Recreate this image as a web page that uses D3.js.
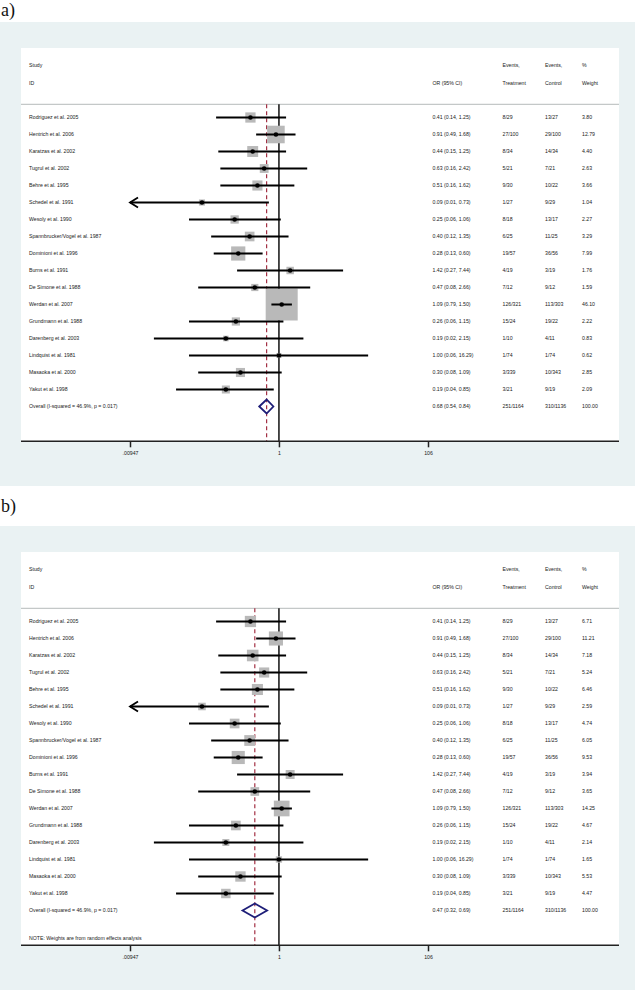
<!DOCTYPE html>
<html><head><meta charset="utf-8">
<script src="https://cdn.jsdelivr.net/npm/d3@7/dist/d3.min.js"></script>
<style>body{margin:0;background:#fff}svg{display:block}</style>
</head><body>
<svg id="chart" width="635" height="990"></svg>
<script>
// ---------- data ----------
const studies = ["Rodriguez et al. 2005","Hentrich et al. 2006","Karatzas et al. 2002","Tugrul et al. 2002",
  "Behre et al. 1995","Schedel et al. 1991","Wesoly et al. 1990","Spannbrucker/Vogel et al. 1987",
  "Dominioni et al. 1996","Burns et al. 1991","De Simone et al. 1988","Werdan et al. 2007",
  "Grundmann et al. 1988","Darenberg et al. 2003","Lindquist et al. 1981","Masaoka et al. 2000","Yakut et al. 1998"];
const oddsRatio = [0.41,0.91,0.44,0.63,0.51,0.09,0.25,0.40,0.28,1.42,0.47,1.09,0.26,0.19,1.00,0.30,0.19];
const ciLow     = [0.14,0.49,0.15,0.16,0.16,0.0094,0.06,0.12,0.13,0.27,0.08,0.79,0.06,0.02,0.06,0.08,0.04];
const ciHigh    = [1.25,1.68,1.25,2.42,1.62,0.73,1.06,1.35,0.60,7.44,2.66,1.50,1.15,2.15,16.29,1.09,0.85];
const eventsTreatment = ["8/29","27/100","8/34","5/21","9/30","1/27","8/18","6/25","19/57","4/19","7/12","126/321","15/24","1/10","1/74","3/339","3/21"];
const eventsControl   = ["13/27","29/100","14/34","7/21","10/22","9/29","13/17","11/25","36/56","3/19","9/12","113/303","19/22","4/11","1/74","10/343","9/19"];
const weightFixed  = [3.80,12.79,4.40,2.63,3.66,1.04,2.27,3.29,7.99,1.76,1.59,46.10,2.22,0.83,0.62,2.85,2.09];
const weightRandom = [6.71,11.21,7.18,5.24,6.46,2.59,4.74,6.05,9.53,3.94,3.65,14.25,4.67,2.14,1.65,5.53,4.47];
const overallFixed  = [0.68,0.54,0.84];   // OR, low, high
const overallRandom = [0.47,0.32,0.69];
const overallText = "Overall  (I-squared = 46.9%, p = 0.017)";
const overallEvents = ["251/1164","310/1136"];
const tickValues = [0.00947, 1, 106];
const tickLabels = [".00947", "1", "106"];
const noteText = "NOTE: Weights are from random effects analysis";

// ---------- drawing ----------
const svg = d3.select("#chart");
const FONT = "Liberation Sans, Arial, sans-serif";
const FS = 5.2;
const x = d3.scaleLog().domain([tickValues[0], tickValues[tickValues.length-1]]).range([130, 428]);

function fmt(v){ return v.toFixed(2); }

function panel(opts){
  const g = svg.append("g");
  const top = opts.top;
  g.append("rect").attr("x",0).attr("y",top).attr("width",635).attr("height",464).attr("fill","#eaf2f3");
  const T = top + 26;
  const axisY = T + 393.3;
  g.append("rect").attr("x",21).attr("y",T).attr("width",598).attr("height",axisY-T).attr("fill","#fff");
  g.append("text").attr("x",1).attr("y",opts.labelY).attr("font-family","Liberation Serif, Times New Roman, serif")
    .attr("font-size",18).attr("fill","#111").text(opts.label);

  const txt = (xx, yy, s) => g.append("text").attr("x",xx).attr("y",yy).attr("dy","0.35em")
      .attr("font-family",FONT).attr("font-size",FS).attr("fill","#1a1a1a").text(s);

  const l1 = T + 17.5, l2 = T + 35, sepY = T + 56.3;
  const colStudy = 29, colOR = 432.5, colT = 502.5, colC = 545, colW = 582;
  txt(colStudy,l1,"Study"); txt(colStudy,l2,"ID");
  txt(colOR,l2,"OR (95% CI)");
  txt(colT,l1,"Events,"); txt(colT,l2,"Treatment");
  txt(colC,l1,"Events,"); txt(colC,l2,"Control");
  txt(colW,l1,"%"); txt(colW,l2,"Weight");
  g.append("line").attr("x1",21).attr("x2",619).attr("y1",sepY).attr("y2",sepY).attr("stroke","#c4c8c8").attr("stroke-width",1.2);

  const y = i => T + 69.5 + 17*i;
  const yOverall = y(studies.length);

  // reference lines
  g.append("line").attr("x1",x(1)).attr("x2",x(1)).attr("y1",sepY).attr("y2",axisY).attr("stroke","#111").attr("stroke-width",1.5);
  g.append("line").attr("x1",x(opts.overall[0])).attr("x2",x(opts.overall[0])).attr("y1",sepY).attr("y2",axisY)
    .attr("stroke","#a33044").attr("stroke-width",1.2).attr("stroke-dasharray","4,3");

  // boxes
  const s = d3.scaleSqrt().domain([0, d3.max(opts.weights)]).range([0, opts.maxBox]);
  studies.forEach((st,i)=>{
    const side = s(opts.weights[i]);
    g.append("rect").attr("x",x(oddsRatio[i])-side/2).attr("y",y(i)-side/2).attr("width",side).attr("height",side)
      .attr("fill","#b9b9b9").attr("stroke","#b9b9b9").attr("stroke-width",1.5);
  });
  // CIs and points
  studies.forEach((st,i)=>{
    const lowClamped = Math.max(ciLow[i], x.domain()[0]);
    const x0 = x(lowClamped), x1 = x(Math.min(ciHigh[i], x.domain()[1]));
    g.append("line").attr("x1",x0).attr("x2",x1).attr("y1",y(i)).attr("y2",y(i)).attr("stroke","#000").attr("stroke-width",2);
    if (ciLow[i] <= x.domain()[0]) {
      g.append("path").attr("d",`M${x0+8},${y(i)-5}L${x0},${y(i)}L${x0+8},${y(i)+5}`)
        .attr("fill","none").attr("stroke","#000").attr("stroke-width",1.8);
    }
    g.append("circle").attr("cx",x(oddsRatio[i])).attr("cy",y(i)).attr("r",2.3).attr("fill","#000");
    txt(colStudy, y(i), st);
    txt(colOR, y(i), `${fmt(oddsRatio[i])} (${fmt(ciLow[i])}, ${fmt(ciHigh[i])})`);
    txt(colT, y(i), eventsTreatment[i]);
    txt(colC, y(i), eventsControl[i]);
    txt(colW, y(i), fmt(opts.weights[i]));
  });

  // overall diamond
  const [oe, ol, oh] = opts.overall;
  g.append("path").attr("d",`M${x(ol)},${yOverall}L${x(oe)},${yOverall-7}L${x(oh)},${yOverall}L${x(oe)},${yOverall+7}Z`)
    .attr("fill","none").attr("stroke","#1e1e78").attr("stroke-width",1.8);
  txt(colStudy, yOverall, overallText);
  txt(colOR, yOverall, `${fmt(oe)} (${fmt(ol)}, ${fmt(oh)})`);
  txt(colT, yOverall, overallEvents[0]);
  txt(colC, yOverall, overallEvents[1]);
  txt(colW, yOverall, "100.00");
  if (opts.note) txt(colStudy, T + 385.7, opts.note);

  // axis
  g.append("line").attr("x1",21).attr("x2",619).attr("y1",axisY).attr("y2",axisY).attr("stroke","#222").attr("stroke-width",1.6);
  const ax = g.append("g").attr("transform",`translate(0,${axisY})`)
    .call(d3.axisBottom(x).tickValues(tickValues).tickFormat((d,i)=>tickLabels[i]).tickSize(6).tickSizeOuter(0));
  ax.select(".domain").remove();
  ax.selectAll(".tick line").attr("stroke","#222").attr("stroke-width",1.5);
  ax.selectAll(".tick text").attr("font-family",FONT).attr("font-size",FS).attr("fill","#1a1a1a").attr("y",10);
}

panel({top:22, label:"a)", labelY:16, weights:weightFixed, overall:overallFixed, maxBox:30.5});
panel({top:526, label:"b)", labelY:512, weights:weightRandom, overall:overallRandom, maxBox:14.2, note:noteText});
</script>
</body></html>
